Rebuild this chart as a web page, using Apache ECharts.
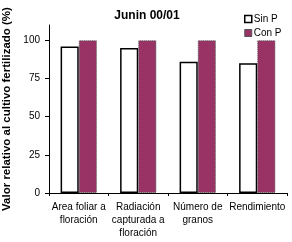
<!DOCTYPE html>
<html><head><meta charset="utf-8">
<script src="https://cdn.jsdelivr.net/npm/echarts@6/dist/echarts.min.js"></script>
<style>html,body{margin:0;padding:0;background:#fff}#c{width:292px;height:242px}</style>
</head><body><div id="c"></div>
<script>
const categories = ['Area foliar a\nfloración', 'Radiación\ncapturada a\nfloración', 'Número de\ngranos', 'Rendimiento'];
const sinP = [96, 95, 86, 85];
const conP = [100, 100, 100, 100];
const yTicks = [0, 25, 50, 75, 100];
const FONT = '"Liberation Sans", Arial, sans-serif';
const chart = echarts.init(document.getElementById('c'), null, {renderer: 'canvas'});
chart.setOption({
  animation: false,
  backgroundColor: '#fff',
  textStyle: {fontFamily: FONT},
  title: {text: 'Junin 00/01', left: 142, top: 5, textAlign: 'center',
    textStyle: {fontFamily: FONT, fontSize: 12, fontWeight: 'bold', color: '#000'}},
  legend: {orient: 'vertical', left: 239, top: 9, itemWidth: 7, itemHeight: 7, itemGap: 4,
    textStyle: {fontFamily: FONT, fontSize: 10, color: '#000', padding: [0,0,0,-3]},
    data: [
      {name: 'Sin P', icon: 'rect', itemStyle: {color: '#fff', borderColor: '#000', borderWidth: 1.5}},
      {name: 'Con P', icon: 'rect', itemStyle: {color: '#993366', borderColor: '#555', borderWidth: 1}}
    ]},
  grid: {left: 49, right: 5, top: 25, bottom: 49, containLabel: false, outerBoundsMode: 'none'},
  xAxis: {type: 'category', data: categories,
    axisLine: {lineStyle: {color: '#000', width: 1}},
    axisTick: {show: true, length: 3, lineStyle: {color: '#000'}},
    axisLabel: {interval: 0, color: '#000', fontFamily: FONT, fontSize: 10, lineHeight: 13, margin: 8}},
  yAxis: {type: 'value', min: 0, max: 110, interval: 25,
    name: 'Valor relativo al cultivo fertilizado (%)', nameLocation: 'middle', nameGap: 34, nameRotate: 90,
    nameTextStyle: {fontFamily: FONT, fontSize: 11.5, fontWeight: 'bold', color: '#000'},
    axisLine: {show: true, lineStyle: {color: '#000', width: 1}},
    axisTick: {show: true, length: 4, lineStyle: {color: '#000'}, customValues: yTicks},
    axisLabel: {color: '#000', fontFamily: FONT, fontSize: 10, margin: 9, customValues: yTicks},
    splitLine: {show: false}},
  series: [
    {name: 'Sin P', type: 'bar', data: sinP, barGap: '0%', barCategoryGap: '39%',
      itemStyle: {color: '#fff', borderColor: '#000', borderWidth: 1.5}},
    {name: 'Con P', type: 'bar', data: conP,
      itemStyle: {color: '#993366', borderColor: '#555', borderWidth: 1, borderType: 'dotted'}}
  ]
});
</script></body></html>
